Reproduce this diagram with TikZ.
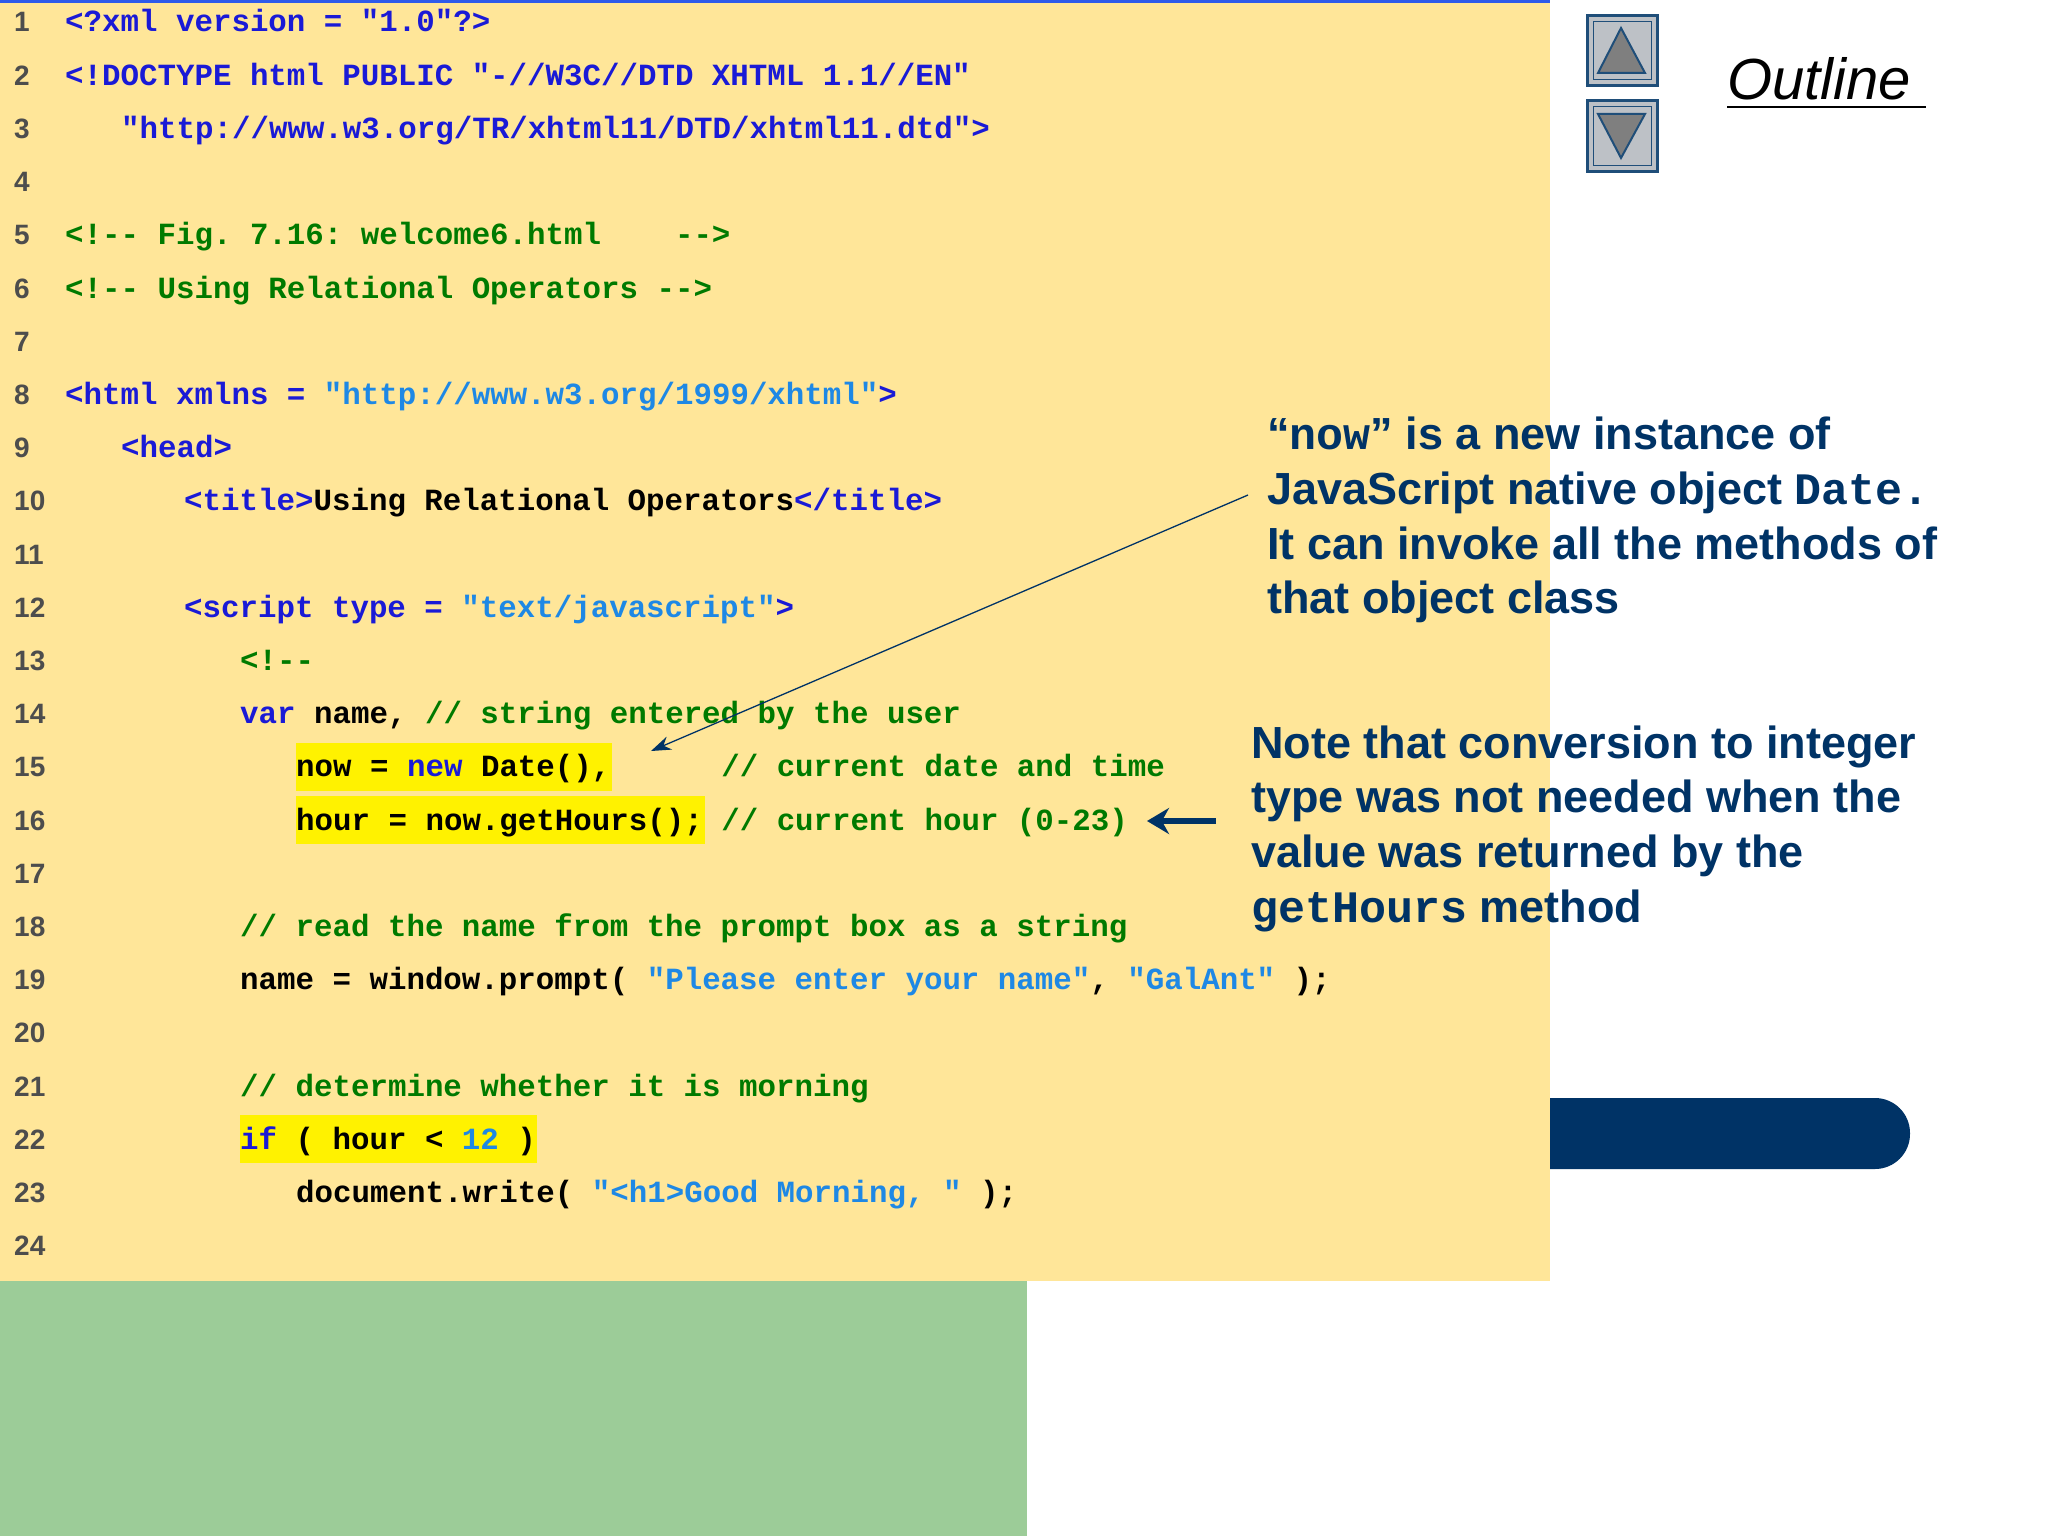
\documentclass[tikz,border=0pt]{standalone}
\usepackage{fontspec}
\setmainfont{Liberation Sans}
\setmonofont{Liberation Mono}
\usetikzlibrary{arrows.meta}
\definecolor{bgy}{HTML}{FFE699}
\definecolor{bgg}{HTML}{9CCC98}
\definecolor{navy}{HTML}{003366}
\definecolor{topblue}{HTML}{2F5BEA}
\definecolor{tagc}{HTML}{1A1AD6}
\definecolor{strc}{HTML}{1E88E5}
\definecolor{comc}{HTML}{007A00}
\definecolor{lnc}{HTML}{4D4D4D}
\definecolor{btn}{HTML}{BDC1C6}
\definecolor{tri}{HTML}{7F7F7F}
\definecolor{btnb}{HTML}{1F4E79}
\newcommand\cT[1]{\textcolor{tagc}{#1}}
\newcommand\cS[1]{\textcolor{strc}{#1}}
\newcommand\cC[1]{\textcolor{comc}{#1}}
\tikzset{
  lnum/.style={anchor=base west,inner sep=0pt,font=\fontsize{28}{30}\selectfont\bfseries,text=lnc},
  code/.style={anchor=base west,inner sep=0pt,font=\fontsize{30.8}{32}\selectfont\ttfamily\bfseries},
  note/.style={anchor=base west,inner sep=0pt,font=\fontsize{45}{54}\selectfont\bfseries,text=navy},
  hl/.style={fill=yellow},
}
\newcommand\by[1]{22+(#1-1)*53.2+10}
\begin{document}
\begin{tikzpicture}[x=1pt,y=-1pt]
\useasboundingbox (0,0) rectangle (2048,1536);
\fill[white] (0,0) rectangle (2048,1536);
% pill
\fill[navy] (1500,1098) [rounded corners=35] -- (1910,1098) -- (1910,1169) [sharp corners] -- (1500,1169) -- cycle;
\fill[bgy] (0,0) rectangle (1550,1281);
\fill[bgg] (0,1281) rectangle (1027,1536);
\fill[topblue] (0,0) rectangle (1550,3);
% highlights
\fill[hl] (296,{22+14*53.2-24}) rectangle (612,{22+14*53.2+24});
\fill[hl] (296,{22+15*53.2-24}) rectangle (705,{22+15*53.2+24});
\fill[hl] (240,{22+21*53.2-24}) rectangle (537,{22+21*53.2+24});
% line numbers
\foreach \n in {1,...,9} \node[lnum] (ln\n) at (14,{\by{\n}}) {\n};
\foreach \n in {10,...,24} \node[lnum] (ln\n) at (14,{\by{\n}}) {\n};
% code
\node[code] (c1) at (65,{\by{1}}) {\cT{<?xml version = "1.0"?>}};
\node[code] (c2) at (65,{\by{2}}) {\cT{<!DOCTYPE html PUBLIC "-//W3C//DTD XHTML 1.1//EN"}};
\node[code] (c3) at (121,{\by{3}}) {\cT{"http://www.w3.org/TR/xhtml11/DTD/xhtml11.dtd">}};
\node[code] (c5) at (65,{\by{5}}) {\cC{<!-- Fig. 7.16: welcome6.html\ \ \ \ -->}};
\node[code] (c6) at (65,{\by{6}}) {\cC{<!-- Using Relational Operators -->}};
\node[code] (c8) at (65,{\by{8}}) {\cT{<html xmlns = }\cS{"http://www.w3.org/1999/xhtml"}\cT{>}};
\node[code] (c9) at (121,{\by{9}}) {\cT{<head>}};
\node[code] (c10) at (184,{\by{10}}) {\cT{<title>}Using Relational Operators\cT{</title>}};
\node[code] (c12) at (184,{\by{12}}) {\cT{<script type = }\cS{"text/javascript"}\cT{>}};
\node[code] (c13) at (240,{\by{13}}) {\cC{<!--}};
\node[code] (c14) at (240,{\by{14}}) {\cT{var} name, \cC{// string entered by the user}};
\node[code] (c15) at (296,{\by{15}}) {now = \cT{new} Date(),\ \ \ \ \ \ \cC{// current date and time}};
\node[code] (c16) at (296,{\by{16}}) {hour = now.getHours(); \cC{// current hour (0-23)}};
\node[code] (c18) at (240,{\by{18}}) {\cC{// read the name from the prompt box as a string}};
\node[code] (c19) at (240,{\by{19}}) {name = window.prompt( \cS{"Please enter your name"}, \cS{"GalAnt"} );};
\node[code] (c21) at (240,{\by{21}}) {\cC{// determine whether it is morning}};
\node[code] (c22) at (240,{\by{22}}) {\cT{if} ( hour < \cS{12} )};
\node[code] (c23) at (296,{\by{23}}) {document.write( \cS{"<h1>Good Morning, "} );};
% notes
\node[note] (n1a) at (1267,449) {“{\ttfamily now}” is a new instance of};
\node[note] (n1b) at (1267,504) {JavaScript native object {\ttfamily Date.}};
\node[note] (n1c) at (1267,559) {It can invoke all the methods of};
\node[note] (n1d) at (1267,613) {that object class};
\node[note] (n2a) at (1251,758) {Note that conversion to integer};
\node[note] (n2b) at (1251,812) {type was not needed when the};
\node[note] (n2c) at (1251,867) {value was returned by the};
\node[note] (n2d) at (1251,922) {{\ttfamily getHours} method};
% arrows
\coordinate (a1s) at (1248,495);
\coordinate (a1e) at (651,751);
\draw[navy,line width=1.3pt,-{Stealth[length=20pt,width=14pt]}] (a1s) -- (a1e);
\coordinate (a2s) at (1216,821);
\coordinate (a2e) at (1147,821);
\draw[navy,line width=6pt,-{Stealth[length=22pt,width=26pt]}] (a2s) -- (a2e);
% buttons
\foreach \yy/\nm in {16/up,101/dn}{
  \draw[btnb,line width=3pt,fill=btn] (1587,\yy) rectangle (1657,\yy+70);
  \draw[btnb,line width=1pt] (1593,\yy+6) rectangle (1651,\yy+64);
}
\draw[btnb,line width=2pt,fill=tri] (1621,28) -- (1645,73) -- (1598,73) -- cycle;
\draw[btnb,line width=2pt,fill=tri] (1598,114) -- (1645,114) -- (1621,158) -- cycle;
\node[anchor=base west,inner sep=0pt,font=\fontsize{58}{60}\selectfont\itshape] (outl) at (1727,100) {Outline};
\draw[line width=2.5pt] (1727,107) -- (1926,107);
\end{tikzpicture}
\end{document}
